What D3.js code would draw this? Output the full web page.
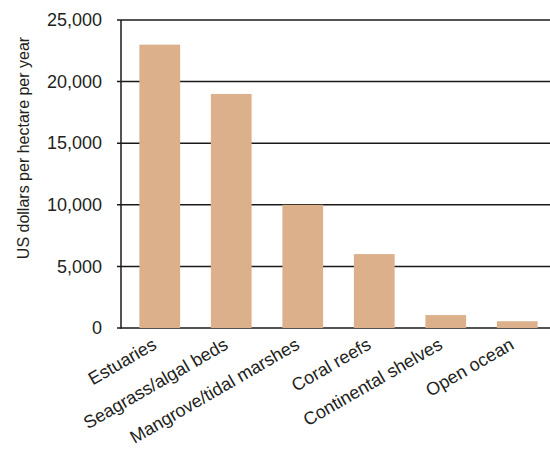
<!DOCTYPE html>
<html>
<head>
<meta charset="utf-8">
<script src="https://cdn.jsdelivr.net/npm/d3@7"></script>
<style>
  body { margin: 0; background: #fff; }
  text { font-family: "Liberation Sans", Arial, sans-serif; fill: #231f20; }
</style>
</head>
<body>
<div class="chart"></div>
<script>
// 데이터
const categories = ['Estuaries', 'Seagrass/algal beds', 'Mangrove/tidal marshes', 'Coral reefs', 'Continental shelves', 'Open ocean'];
const values = [23000, 19000, 10000, 6000, 1050, 550];
const yTicks = [0, 5000, 10000, 15000, 20000, 25000];

const width = 550;
const height = 449;
const [mt, ml] = [20, 121];
const y0 = 328; // 0 위치

const barColor = '#dcb08b';
const lineColor = '#1a1a1a';

const svg = d3.select('.chart')
  .append('svg')
  .attr('width', width)
  .attr('height', height);

// x축 간격
const x = d3.scaleBand()
  .domain(categories)
  .range([124, 553])
  .paddingInner(0.43)
  .paddingOuter(0.215);

// y축 간격
const y = d3.scaleLinear()
  .domain([0, 25000])
  .range([y0, mt]);

// 가로 눈금선
svg.append('g')
  .selectAll('line')
  .data(yTicks)
  .join('line')
  .attr('x1', ml - 4)
  .attr('x2', width)
  .attr('y1', d => y(d))
  .attr('y2', d => y(d))
  .attr('stroke', lineColor)
  .attr('stroke-width', 1.5);

// 막대
svg.append('g')
  .selectAll('rect')
  .data(values)
  .join('rect')
  .attr('x', (d, i) => x(categories[i]))
  .attr('y', d => y(d))
  .attr('width', x.bandwidth())
  .attr('height', d => y(0) - y(d))
  .attr('fill', barColor);

// y축
const yAxis = d3.axisLeft(y)
  .tickValues(yTicks)
  .tickSize(0)
  .tickPadding(19)
  .tickFormat(d3.format(','));

svg.append('g')
  .attr('transform', `translate(${ml},0)`)
  .call(yAxis)
  .call(g => g.select('.domain').remove())
  .call(g => g.selectAll('text')
    .attr('font-size', 18)
    .attr('font-family', '"Liberation Sans", Arial, sans-serif')
    .attr('fill', '#231f20'));

svg.append('line')
  .attr('x1', ml).attr('x2', ml)
  .attr('y1', mt).attr('y2', y0 + 0.75)
  .attr('stroke', lineColor)
  .attr('stroke-width', 1.5);

// x축 라벨 (회전)
svg.append('g')
  .selectAll('text')
  .data(categories)
  .join('text')
  .attr('transform', d => `translate(${x(d) + x.bandwidth() / 2 - 2}, 348) rotate(-30)`)
  .attr('text-anchor', 'end')
  .attr('font-size', 18)
  .text(d => d);

// y축 제목
svg.append('text')
  .attr('transform', `translate(29, 148) rotate(-90)`)
  .attr('text-anchor', 'middle')
  .attr('font-size', 16)
  .text('US dollars per hectare per year');
</script>
</body>
</html>
